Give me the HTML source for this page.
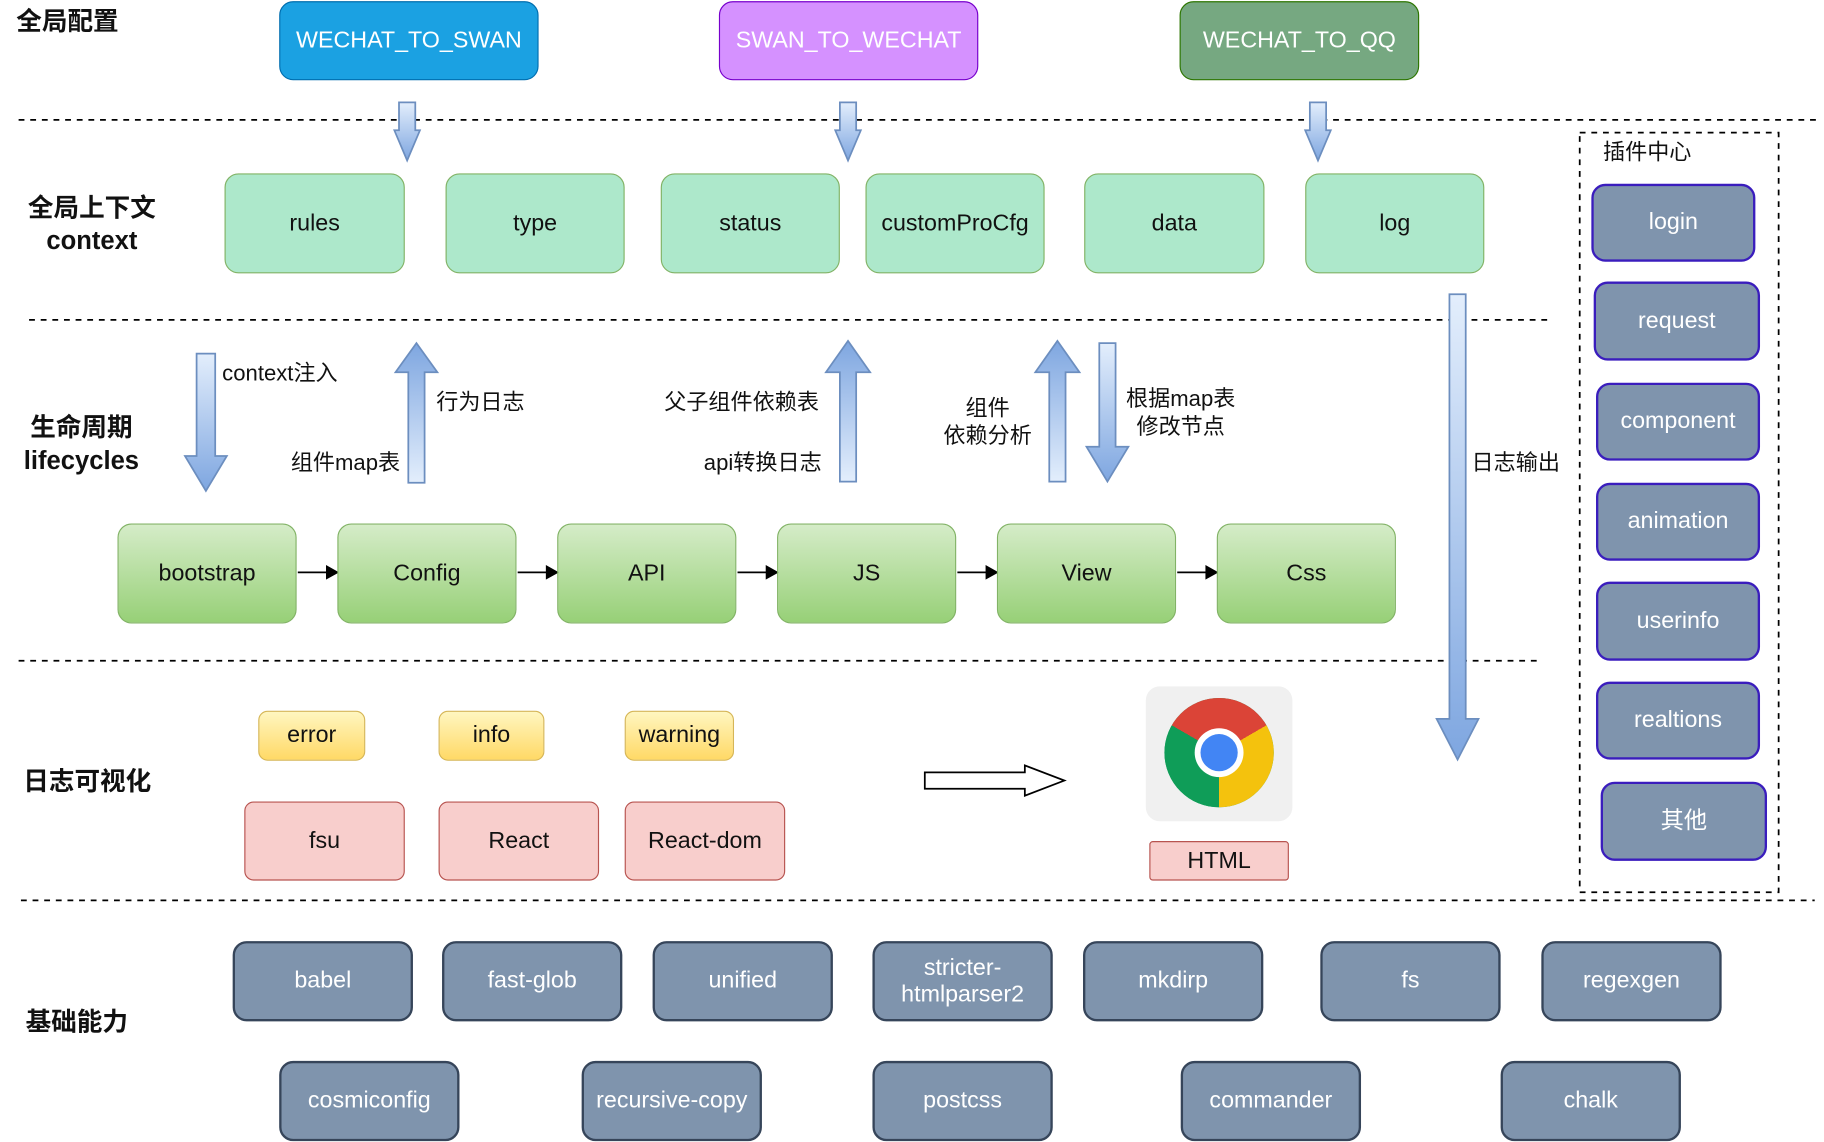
<!DOCTYPE html>
<html><head><meta charset="utf-8"><style>
html,body{margin:0;padding:0;background:#fff;width:1824px;height:1142px;overflow:hidden}
#w{position:absolute;left:0;top:0;width:1568px;height:982px;transform:scale(1.16327);transform-origin:0 0;font-family:"Liberation Sans","Noto Sans CJK SC",sans-serif}
.b{position:absolute;box-sizing:border-box;display:flex;align-items:center;justify-content:center;text-align:center;font-size:20px;border-radius:12px;line-height:23px}
.t{position:absolute;font-size:19px;color:#111;white-space:nowrap;line-height:24px}
.h{position:absolute;font-size:22px;font-weight:bold;color:#111;text-align:center;line-height:28px;white-space:nowrap}
.ctx{background:#ade8cb;border:1.5px solid #82b366;color:#111;top:149px;height:86px}
.lc{background:linear-gradient(#d5ecc8,#97d077);border:1.5px solid #82b366;color:#111;top:450px;height:86px}
.pl{background:#7f94ad;border:2px solid #3a1dbd;color:#fff}
.ba{background:#7f94ad;border:2px solid #36455a;color:#fff;height:69px}
.ye{background:linear-gradient(#fff6c0,#ffd966);border:1.5px solid #d6b656;color:#111;top:611px;height:43px;border-radius:8px}
.pk{background:#f8cecc;border:1.5px solid #b85450;color:#111;top:689px;height:68px;border-radius:8px}
</style></head><body><div id="w">
<svg width="1568" height="982" style="position:absolute;left:0;top:0">
<defs><linearGradient id="g" x1="0" y1="0" x2="0" y2="1"><stop offset="0" stop-color="#e3eefc"/><stop offset="1" stop-color="#7ea6e0"/></linearGradient>
<linearGradient id="gu" x1="0" y1="1" x2="0" y2="0"><stop offset="0" stop-color="#e3eefc"/><stop offset="1" stop-color="#7ea6e0"/></linearGradient></defs>
<g stroke="#000" stroke-width="1.5" stroke-dasharray="5,5">
<line x1="16" y1="103" x2="1565" y2="103"/>
<line x1="25" y1="275" x2="1330" y2="275"/>
<line x1="16" y1="568" x2="1322" y2="568"/>
<line x1="18" y1="774" x2="1560" y2="774"/>
<rect x="1358" y="114" width="171" height="653" fill="none"/>
</g>
<g fill="url(#g)" stroke="#6c8ebf" stroke-width="1.5">
<polygon points="343,88 357,88 357,112 361,112 350,138 339,112 343,112"/>
<polygon points="722,88 736,88 736,112 740,112 729,138 718,112 722,112"/>
<polygon points="1126,88 1140,88 1140,112 1144,112 1133,138 1122,112 1126,112"/>
<polygon points="169,304 185,304 185,392 195,392 177,422 159,392 169,392"/>
<polygon points="945,295 959,295 959,384 970,384 952,414 934,384 945,384"/>
<polygon points="1246,253 1260,253 1260,618 1271,618 1253,653 1235,618 1246,618"/>
</g>
<g fill="url(#gu)" stroke="#6c8ebf" stroke-width="1.5">
<polygon points="358,295 376,320 365,320 365,415 351,415 351,320 340,320"/>
<polygon points="729,293 748,320 736,320 736,414 722,414 722,320 710,320"/>
<polygon points="909,293 928,320 916,320 916,414 902,414 902,320 890,320"/>
</g>
<g stroke="#000" stroke-width="1.5" fill="#000">
<line x1="256" y1="492" x2="282" y2="492"/><polygon points="290,492 281,487 281,497"/>
<line x1="445" y1="492" x2="471" y2="492"/><polygon points="479,492 470,487 470,497"/>
<line x1="634" y1="492" x2="660" y2="492"/><polygon points="668,492 659,487 659,497"/>
<line x1="823" y1="492" x2="849" y2="492"/><polygon points="857,492 848,487 848,497"/>
<line x1="1012" y1="492" x2="1038" y2="492"/><polygon points="1046,492 1037,487 1037,497"/>
</g>
<polygon points="795,664 881,664 881,658 915,671 881,684 881,678 795,678" fill="#fff" stroke="#000" stroke-width="1.5"/>
<rect x="985" y="590" width="126" height="116" rx="12" fill="#f0f0f0"/>
<circle cx="1048" cy="647" r="47" fill="#0f9d58"/>
</svg>
<div style="position:absolute;left:1001px;top:600px;width:94px;height:94px;border-radius:50%;background:conic-gradient(from -60deg,#db4437 0 120deg,#f4c20d 120deg 240deg,#0f9d58 240deg 360deg)"></div>
<div style="position:absolute;left:1027px;top:626px;width:42px;height:42px;border-radius:50%;background:#fff"></div>
<div style="position:absolute;left:1032px;top:631px;width:32px;height:32px;border-radius:50%;background:#4285f4"></div>

<div class="h" style="left:14px;top:5px">全局配置</div>
<div class="h" style="left:18px;top:165px;width:122px">全局上下文<br>context</div>
<div class="h" style="left:10px;top:354px;width:120px">生命周期<br>lifecycles</div>
<div class="h" style="left:20px;top:658px">日志可视化</div>
<div class="h" style="left:22px;top:865px">基础能力</div>

<div class="b" style="left:240px;top:1px;width:223px;height:68px;background:#1ba1e2;border:1.5px solid #006eaf;color:#fff">WECHAT_TO_SWAN</div>
<div class="b" style="left:618px;top:1px;width:223px;height:68px;background:#d591ff;border:1.5px solid #7700cc;color:#fff">SWAN_TO_WECHAT</div>
<div class="b" style="left:1014px;top:1px;width:206px;height:68px;background:#76a881;border:1.5px solid #2d7600;color:#fff">WECHAT_TO_QQ</div>

<div class="b ctx" style="left:193px;width:155px">rules</div>
<div class="b ctx" style="left:383px;width:154px">type</div>
<div class="b ctx" style="left:568px;width:154px">status</div>
<div class="b ctx" style="left:744px;width:154px">customProCfg</div>
<div class="b ctx" style="left:932px;width:155px">data</div>
<div class="b ctx" style="left:1122px;width:154px">log</div>

<div class="t" style="left:1378px;top:120px">插件中心</div>
<div class="b pl" style="left:1368px;top:158px;width:141px;height:67px">login</div>
<div class="b pl" style="left:1370px;top:242px;width:143px;height:68px">request</div>
<div class="b pl" style="left:1372px;top:329px;width:141px;height:67px">component</div>
<div class="b pl" style="left:1372px;top:415px;width:141px;height:67px">animation</div>
<div class="b pl" style="left:1372px;top:500px;width:141px;height:68px">userinfo</div>
<div class="b pl" style="left:1372px;top:586px;width:141px;height:67px">realtions</div>
<div class="b pl" style="left:1376px;top:672px;width:143px;height:68px">其他</div>

<div class="t" style="left:191px;top:310px">context注入</div>
<div class="t" style="left:375px;top:335px">行为日志</div>
<div class="t" style="left:250px;top:387px">组件map表</div>
<div class="t" style="left:571px;top:335px">父子组件依赖表</div>
<div class="t" style="left:605px;top:387px">api转换日志</div>
<div class="t" style="left:808px;top:340px;width:82px;text-align:center">组件<br>依赖分析</div>
<div class="t" style="left:968px;top:332px;text-align:center">根据map表<br>修改节点</div>
<div class="t" style="left:1265px;top:387px">日志输出</div>

<div class="b lc" style="left:101px;width:154px">bootstrap</div>
<div class="b lc" style="left:290px;width:154px">Config</div>
<div class="b lc" style="left:479px;width:154px">API</div>
<div class="b lc" style="left:668px;width:154px">JS</div>
<div class="b lc" style="left:857px;width:154px">View</div>
<div class="b lc" style="left:1046px;width:154px">Css</div>

<div class="b ye" style="left:222px;width:92px">error</div>
<div class="b ye" style="left:377px;width:91px">info</div>
<div class="b ye" style="left:537px;width:94px">warning</div>
<div class="b pk" style="left:210px;width:138px">fsu</div>
<div class="b pk" style="left:377px;width:138px">React</div>
<div class="b pk" style="left:537px;width:138px">React-dom</div>
<div class="b" style="left:988px;top:723px;width:120px;height:34px;background:#f8cecc;border:1.5px solid #b85450;border-radius:3px;color:#111">HTML</div>

<div class="b ba" style="left:200px;top:809px;width:155px">babel</div>
<div class="b ba" style="left:380px;top:809px;width:155px">fast-glob</div>
<div class="b ba" style="left:561px;top:809px;width:155px">unified</div>
<div class="b ba" style="left:750px;top:809px;width:155px">stricter-<br>htmlparser2</div>
<div class="b ba" style="left:931px;top:809px;width:155px">mkdirp</div>
<div class="b ba" style="left:1135px;top:809px;width:155px">fs</div>
<div class="b ba" style="left:1325px;top:809px;width:155px">regexgen</div>
<div class="b ba" style="left:240px;top:912px;width:155px">cosmiconfig</div>
<div class="b ba" style="left:500px;top:912px;width:155px">recursive-copy</div>
<div class="b ba" style="left:750px;top:912px;width:155px">postcss</div>
<div class="b ba" style="left:1015px;top:912px;width:155px">commander</div>
<div class="b ba" style="left:1290px;top:912px;width:155px">chalk</div>
</div></body></html>
